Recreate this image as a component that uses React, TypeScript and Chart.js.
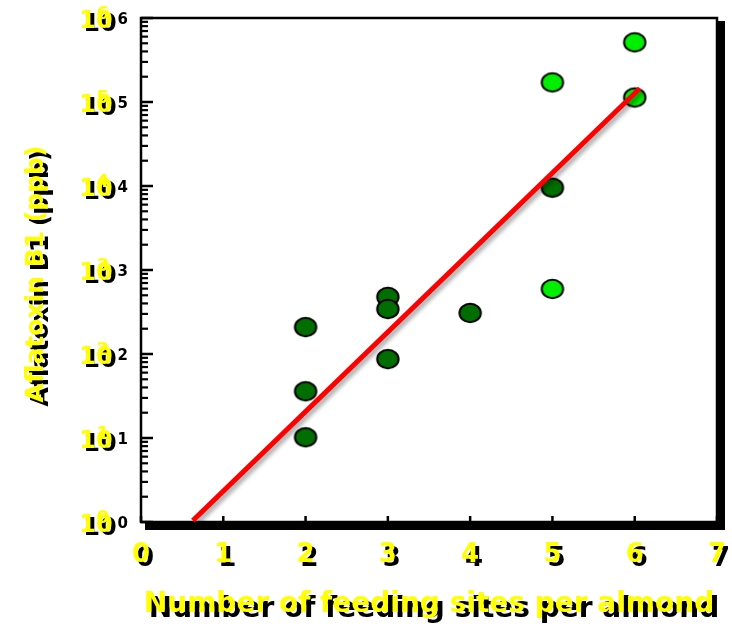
import { useEffect, useRef } from 'react';
import { Chart, registerables } from 'chart.js';

Chart.register(...registerables);

// ---- data ----
const xTickValues = [0, 1, 2, 3, 4, 5, 6, 7];
const yExponents = [0, 1, 2, 3, 4, 5, 6];
const darkX = [2, 2, 2, 3, 3, 3, 4, 5];
const darkY = [209, 36, 10.2, 478, 343, 87, 308, 9540];
const lightX = [5, 5, 6, 6];
const lightY = [171000, 595, 513000, 113000];
const fitX = [0.63, 6.06];
const fitY = [1.04, 145000];
const xTitle = 'Number of feeding sites per almond';
const yTitle = 'Aflatoxin B1 (ppb)';

const YELLOW = '#ffff00';
const FONT = '"DejaVu Sans"';

function makeDot(fill: string) {
  const c = document.createElement('canvas');
  c.width = 26;
  c.height = 24;
  const g = c.getContext('2d')!;
  g.beginPath();
  g.ellipse(13, 12, 10.7, 9.3, 0, 0, Math.PI * 2);
  g.fillStyle = fill;
  g.fill();
  g.lineWidth = 2;
  g.strokeStyle = '#000';
  g.stroke();
  return c;
}

function isPow10(v: number) {
  const l = Math.log10(v);
  return Math.abs(l - Math.round(l)) < 1e-9;
}

const framePlugin = {
  id: 'frame',
  beforeDraw(chart: any) {
    const { ctx, chartArea: a } = chart;
    ctx.save();
    ctx.fillStyle = '#fff';
    ctx.fillRect(0, 0, chart.width, chart.height);
    // drop shadow of plot frame
    ctx.fillStyle = '#000';
    ctx.fillRect(a.right, a.top + 3, 8, a.bottom - a.top + 5);
    ctx.fillRect(a.left + 4, a.bottom, a.right - a.left + 4, 8);
    ctx.fillStyle = '#fff';
    ctx.fillRect(a.left, a.top, a.right - a.left, a.bottom - a.top);
    ctx.strokeStyle = '#000';
    ctx.lineWidth = 2.5;
    ctx.strokeRect(a.left, a.top, a.right - a.left, a.bottom - a.top);
    // tick marks (inward)
    const ys = chart.scales.y;
    const xs = chart.scales.x;
    ys.ticks.forEach((t: any) => {
      const p = ys.getPixelForValue(t.value);
      const major = isPow10(t.value);
      ctx.lineWidth = major ? 2.5 : 2.2;
      ctx.beginPath();
      ctx.moveTo(a.left, p);
      ctx.lineTo(a.left + (major ? 12 : 7), p);
      ctx.stroke();
    });
    xs.ticks.forEach((t: any) => {
      const p = xs.getPixelForValue(t.value);
      ctx.lineWidth = 2.5;
      ctx.beginPath();
      ctx.moveTo(p, a.bottom);
      ctx.lineTo(p, a.bottom - 6);
      ctx.stroke();
    });
    ctx.restore();
  },
  beforeDatasetDraw(chart: any, args: any) {
    if (args.index === 0) {
      const ctx = chart.ctx;
      ctx.save();
      ctx.shadowColor = 'rgba(0,0,0,0.35)';
      ctx.shadowBlur = 4;
      ctx.shadowOffsetX = 3;
      ctx.shadowOffsetY = 3;
    }
  },
  afterDatasetDraw(chart: any, args: any) {
    if (args.index === 0) chart.ctx.restore();
  },
  afterDraw(chart: any) {
    const { ctx, chartArea: a } = chart;
    const ys = chart.scales.y;
    const xs = chart.scales.x;
    ctx.save();
    ctx.textBaseline = 'alphabetic';
    // y tick labels: 10^n
    ys.ticks.forEach((t: any) => {
      if (!isPow10(t.value)) return;
      const p = ys.getPixelForValue(t.value);
      const exp = String(t.label);
      ctx.textAlign = 'left';
      // black copy
      ctx.fillStyle = '#000';
      ctx.font = `bold 24px ${FONT}`;
      ctx.fillText('10', 83.3, p + 12.5);
      ctx.font = `bold 15px ${FONT}`;
      ctx.fillText(exp, 117.5, p + 5.5);
      // yellow copy
      ctx.fillStyle = YELLOW;
      ctx.font = `bold 24px ${FONT}`;
      ctx.fillText('10', 79.3, p + 9.5);
      ctx.font = `bold 18px ${FONT}`;
      ctx.fillText(exp, 96.5, p + 0.5);
    });
    // x tick labels
    ctx.textAlign = 'center';
    ctx.font = `bold 26px ${FONT}`;
    xs.ticks.forEach((t: any) => {
      const p = xs.getPixelForValue(t.value);
      ctx.fillStyle = '#000';
      ctx.fillText(String(t.label), p + 4, 566);
      ctx.fillStyle = YELLOW;
      ctx.fillText(String(t.label), p, 562);
    });
    // x title
    const cx = (a.left + a.right) / 2;
    ctx.font = `bold 28px ${FONT}`;
    ctx.fillStyle = '#000';
    ctx.fillText(xTitle, cx + 5, 617);
    ctx.fillStyle = YELLOW;
    ctx.fillText(xTitle, cx, 612);
    // y title
    const cy = 274;
    ctx.font = `bold 25px ${FONT}`;
    ctx.save();
    ctx.translate(48, cy + 4);
    ctx.rotate(-Math.PI / 2);
    ctx.fillStyle = '#000';
    ctx.fillText(yTitle, 0, 0);
    ctx.restore();
    ctx.save();
    ctx.translate(43, cy);
    ctx.rotate(-Math.PI / 2);
    ctx.fillStyle = YELLOW;
    ctx.fillText(yTitle, 0, 0);
    ctx.restore();
    ctx.restore();
  },
};

export default function App() {
  const ref = useRef<HTMLCanvasElement>(null);
  useEffect(() => {
    if (!ref.current) return;
    const darkDot = makeDot('#006e00');
    const lightDot = makeDot('#00ee00');
    const chart = new Chart(ref.current, {
      type: 'scatter',
      data: {
        datasets: [
          {
            label: 'fit',
            data: fitX.map((x, i) => ({ x, y: fitY[i] })),
            showLine: true,
            borderColor: '#ff0000',
            borderWidth: 5,
            borderCapStyle: 'butt',
            pointRadius: 0,
            pointHoverRadius: 0,
            fill: false,
          },
          {
            label: 'light',
            data: lightX.map((x, i) => ({ x, y: lightY[i] })),
            pointStyle: lightDot as any,
            pointRadius: 12,
          },
          {
            label: 'dark',
            data: darkX.map((x, i) => ({ x, y: darkY[i] })),
            pointStyle: darkDot as any,
            pointRadius: 12,
          },
        ],
      } as any,
      options: {
        animation: false,
        responsive: true,
        maintainAspectRatio: false,
        events: [],
        layout: { padding: { left: 141, top: 18, right: 15, bottom: 106 } },
        plugins: { legend: { display: false }, tooltip: { enabled: false } },
        scales: {
          x: {
            type: 'linear',
            min: 0,
            max: 7,
            afterBuildTicks: (s: any) => {
              s.ticks = xTickValues.map((v) => ({ value: v }));
            },
            ticks: { display: false, callback: (v: any) => String(v) },
            grid: { display: false, drawTicks: false },
            border: { display: false },
          },
          y: {
            type: 'logarithmic',
            min: 1,
            max: 1e6,
            afterBuildTicks: (s: any) => {
              const t: any[] = [];
              yExponents.forEach((e) => {
                if (e === yExponents[yExponents.length - 1]) {
                  t.push({ value: Math.pow(10, e) });
                } else {
                  for (let k = 1; k <= 9; k++) t.push({ value: k * Math.pow(10, e) });
                }
              });
              s.ticks = t;
            },
            ticks: {
              display: false,
              callback: (v: any) => (isPow10(v) ? String(Math.round(Math.log10(v))) : ''),
            },
            grid: { display: false, drawTicks: false },
            border: { display: false },
          },
        },
      } as any,
      plugins: [framePlugin],
    });
    return () => chart.destroy();
  }, []);
  return (
    <div style={{ position: 'absolute', left: 0, top: 0, width: 732, height: 628 }}>
      <canvas ref={ref} />
    </div>
  );
}
